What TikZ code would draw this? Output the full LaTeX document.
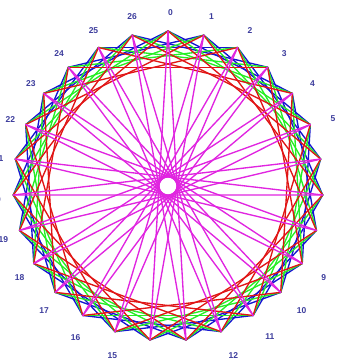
\documentclass[tikz,border=0pt]{standalone}
\usepackage{fontspec}
\setmainfont{Liberation Sans}
\usetikzlibrary{calc}
\definecolor{chordblue}{HTML}{1515D0}
\definecolor{chordgreen}{HTML}{25EE25}
\definecolor{chordred}{HTML}{E01515}
\definecolor{chordmag}{HTML}{E025E0}
\definecolor{labelblue}{HTML}{3C3C9C}
\tikzset{vlabel/.style={anchor=north west,inner sep=0pt,font=\bfseries\fontsize{8.5}{10}\selectfont,text=labelblue},chord/.style={line width=1.35pt,line cap=round}}

\begin{document}
\begin{tikzpicture}[x=1pt,y=1pt]
\useasboundingbox (0,0) rectangle (337,362);
\clip (0,0) rectangle (337,362);
\coordinate (o) at (168,176);
\foreach \i in {0,...,26}{
\coordinate (v\i) at ($(o)+({90-\i*360/27}:155)$);
}
% only the labels that fall inside the frame
\foreach \i in {0,...,5,9,10,11,12,15,16,...,26}{
\node[vlabel] (l\i) at ($(o)+({90-\i*360/27}:177)$) {\i};
}
% chords i -- i+k, one colour per step k
\foreach \k/\col in {4/chordblue,5/chordgreen,6/chordred,13/chordmag}{
\foreach \i in {0,...,26}{
\pgfmathtruncatemacro\j{mod(\i+\k,27)}
\draw[chord,\col] (v\i)--(v\j);
}}
\end{tikzpicture}
\end{document}
